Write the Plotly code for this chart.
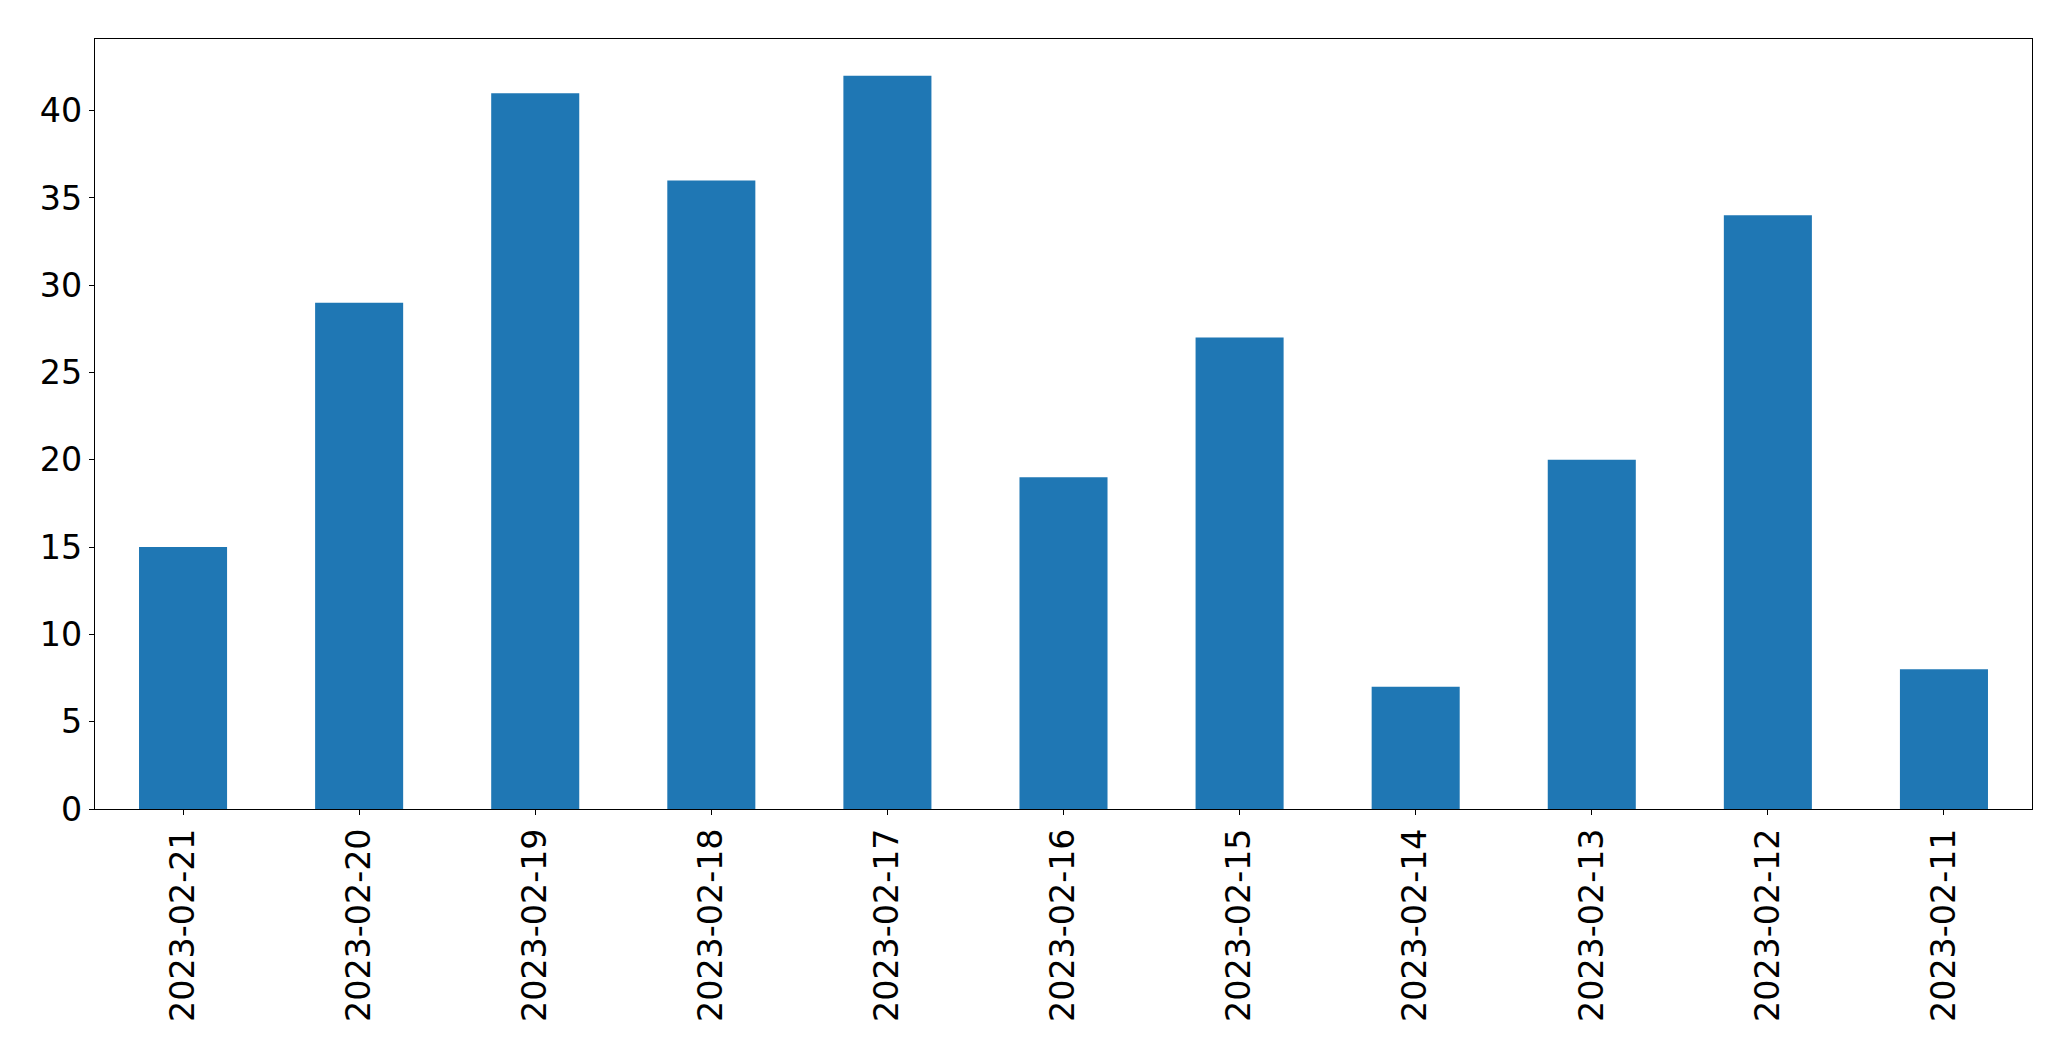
import plotly.graph_objects as go

dates = ["2023-02-21", "2023-02-20", "2023-02-19", "2023-02-18", "2023-02-17",
         "2023-02-16", "2023-02-15", "2023-02-14", "2023-02-13", "2023-02-12",
         "2023-02-11"]
counts = [15, 29, 41, 36, 42, 19, 27, 7, 20, 34, 8]
yticks = [0, 5, 10, 15, 20, 25, 30, 35, 40]

fig = go.Figure(go.Bar(x=dates, y=counts, marker=dict(color="#1f77b4", line=dict(width=0))))

font = dict(family="DejaVu Sans", size=33.3, color="black")
fig.update_layout(
    width=2055, height=1045,
    margin=dict(l=87, r=31, t=31, b=244, pad=0),
    plot_bgcolor="white", paper_bgcolor="white",
    bargap=0.5, showlegend=False, font=font,
)
fig.update_xaxes(
    type="category", range=[-0.5, len(dates) - 0.5],
    showline=True, mirror=True, linecolor="black", linewidth=1.3,
    ticks="outside", ticklen=5, tickwidth=1.3, tickcolor="black",
    tickangle=-90, showgrid=False, tickfont=font,
)
fig.update_yaxes(
    range=[0, 44.1], tickvals=yticks,
    showline=True, mirror=True, linecolor="black", linewidth=1.3,
    ticks="outside", ticklen=5, tickwidth=1.3, tickcolor="black",
    showgrid=False, zeroline=False, tickfont=font,
)
fig.write_html("out.html")
